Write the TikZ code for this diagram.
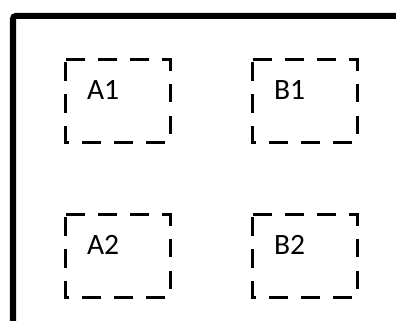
\documentclass[tikz,border=0pt]{standalone}
\usepackage{fontspec}
\setmainfont{Carlito}
\usetikzlibrary{positioning}

\begin{document}
\begin{tikzpicture}[x=0.025cm,y=-0.025cm,
  frame/.style={line width=0.15cm,black,rounded corners=2pt},
  region/.style={minimum width=2.6cm,minimum height=2.05cm,inner sep=0pt,outer sep=0pt},
  outline/.style={draw,dash pattern=on 13.4pt off 9.3pt,line width=0.075cm},
  tag/.style={font=\fontsize{21}{25}\selectfont,inner sep=0pt,anchor=base west}]
\useasboundingbox (0,0) rectangle (396,321);
\draw[frame] (13,330) |- (405,16);
\node[region] (a1) at (118,101) {};
\node[region] (b1) at (305,101) {};
\node[region] (a2) at (118,256) {};
\node[region] (b2) at (305,256) {};
\foreach \r in {a1,b1,a2,b2}
  \draw[outline] (\r.north west) -| (\r.south east) -| cycle;
\node[tag] (a1t) at ([xshift=0.52cm,yshift=-1cm]a1.north west) {A1};
\node[tag] (b1t) at ([xshift=0.52cm,yshift=-1cm]b1.north west) {B1};
\node[tag] (a2t) at ([xshift=0.52cm,yshift=-1cm]a2.north west) {A2};
\node[tag] (b2t) at ([xshift=0.52cm,yshift=-1cm]b2.north west) {B2};
\end{tikzpicture}
\end{document}
